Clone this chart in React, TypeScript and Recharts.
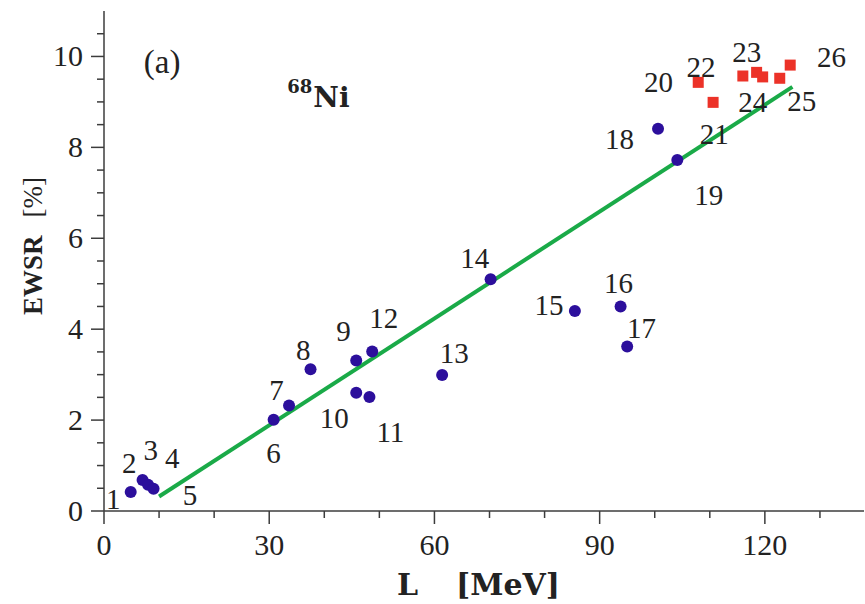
import React from 'react';
import { ScatterChart, Scatter, XAxis, YAxis, ReferenceLine, Customized } from 'recharts';

// ---- data ----
const blueIds = [1, 2, 3, 4, 6, 7, 8, 9, 10, 11, 12, 13, 14, 15, 16, 17, 18, 19];
const blueL = [4.85, 7.0, 8.0, 9.0, 30.8, 33.6, 37.5, 45.8, 45.8, 48.2, 48.7, 61.4, 70.2, 85.5, 93.8, 95.0, 100.6, 104.1];
const blueEWSR = [0.42, 0.68, 0.58, 0.49, 2.01, 2.32, 3.12, 3.31, 2.6, 2.51, 3.51, 2.99, 5.1, 4.4, 4.5, 3.62, 8.41, 7.72];

const redIds = [20, 21, 22, 23, 24, 25, 26];
const redL = [107.9, 110.6, 116.0, 118.5, 119.6, 122.7, 124.6];
const redEWSR = [9.43, 8.99, 9.57, 9.65, 9.55, 9.52, 9.81];

// linear fit endpoints
const fitL = [10, 125];
const fitEWSR = [0.32, 9.33];

// model-number labels (anchored in data coordinates)
const labelText = ['1', '2', '3', '4', '5', '6', '7', '8', '9', '10', '11', '12', '13', '14', '15', '16', '17', '18', '19', '20', '21', '22', '23', '24', '25', '26'];
const labelL = [1.7, 4.6, 8.5, 12.4, 15.6, 30.8, 31.3, 36.2, 43.5, 41.8, 52.0, 50.8, 63.6, 67.3, 80.8, 93.4, 97.6, 93.6, 109.8, 100.7, 110.8, 108.4, 116.7, 117.8, 126.7, 132.1];
const labelEWSR = [0.27, 1.05, 1.35, 1.16, 0.36, 1.28, 2.66, 3.54, 3.97, 2.04, 1.74, 4.24, 3.47, 5.57, 4.54, 5.02, 4.03, 8.19, 6.96, 9.43, 8.29, 9.76, 10.09, 8.99, 9.02, 9.98];

// panel notes
const panelNote = [{ L: 10.55, EWSR: 9.87, text: '(a)' }];
const nucleusNote = [{ L: 33.27, EWSR: 8.88, mass: '68', element: 'Ni' }];

const xTicks = [0, 10, 20, 30, 40, 50, 60, 70, 80, 90, 100, 110, 120, 130];
const xMajor = [0, 30, 60, 90, 120];
const yTicks = [0, 0.5, 1, 1.5, 2, 2.5, 3, 3.5, 4, 4.5, 5, 5.5, 6, 6.5, 7, 7.5, 8, 8.5, 9, 9.5, 10, 10.5];
const yMajor = [0, 2, 4, 6, 8, 10];

const blueData = blueIds.map((id, i) => ({ id, L: blueL[i], EWSR: blueEWSR[i] }));
const redData = redIds.map((id, i) => ({ id, L: redL[i], EWSR: redEWSR[i] }));
const labelData = labelText.map((t, i) => ({ text: t, L: labelL[i], EWSR: labelEWSR[i] }));
const fitSegment = fitL.map((L, i) => ({ x: L, y: fitEWSR[i] }));

// ---- styles ----
const FONT = '"Liberation Serif", "Times New Roman", serif';
const WIDE = '"DejaVu Serif", serif';
const AX = '#3c3c3c';
const TXT = '#222222';
const BLUE = '#2c0f9c';
const RED = '#ec3228';
const GREEN = '#1aaa48';
const MAJOR = 13;
const MINOR = 7;

const BottomTick = (p: any) => {
  const v = p.payload.value;
  const major = xMajor.includes(v);
  return (
    <g>
      <line x1={p.x} x2={p.x} y1={p.y} y2={p.y + (major ? MAJOR : MINOR)} stroke={AX} strokeWidth={1.5} />
      {major && (
        <text x={p.x} y={p.y + 44} textAnchor="middle" fontFamily={FONT} fontSize={30} fill={TXT}>{v}</text>
      )}
    </g>
  );
};

const TopTick = (p: any) => {
  const v = p.payload.value;
  const major = xMajor.includes(v);
  return <line x1={p.x} x2={p.x} y1={p.y} y2={p.y + (major ? MAJOR : MINOR) + 2} stroke={AX} strokeWidth={1.5} />;
};

const LeftTick = (p: any) => {
  const v = p.payload.value;
  const major = yMajor.includes(v);
  return (
    <g>
      <line x1={p.x - (major ? MAJOR : MINOR)} x2={p.x} y1={p.y} y2={p.y} stroke={AX} strokeWidth={1.5} />
      {major && (
        <text x={p.x - 21} y={p.y + 10} textAnchor="end" fontFamily={FONT} fontSize={30} fill={TXT}>{v}</text>
      )}
    </g>
  );
};

const RightTick = (p: any) => {
  const v = p.payload.value;
  const major = yMajor.includes(v);
  return <line x1={p.x - (major ? MAJOR : MINOR)} x2={p.x} y1={p.y} y2={p.y} stroke={AX} strokeWidth={1.5} />;
};

const Dot = (p: any) => <circle cx={p.cx} cy={p.cy} r={6} fill={BLUE} />;
const Square = (p: any) => <rect x={p.cx - 5.5} y={p.cy - 5.5} width={11} height={11} fill={RED} />;
const NumberLabel = (p: any) => (
  <text x={p.cx} y={p.cy} textAnchor="middle" dominantBaseline="central" fontFamily={FONT} fontSize={29} fill={TXT}>
    {p.payload.text}
  </text>
);
const PanelLabel = (p: any) => (
  <text x={p.cx} y={p.cy} textAnchor="middle" dominantBaseline="central" fontFamily={FONT} fontSize={33} fill={TXT}>
    {p.payload.text}
  </text>
);
const NucleusLabel = (p: any) => (
  <text x={p.cx} y={p.cy} textAnchor="start" fontFamily={WIDE} fontWeight="bold" fill={TXT}>
    <tspan fontSize={18} dy={-14}>{p.payload.mass}</tspan>
    <tspan fontSize={28} dy={14} dx={1}>{p.payload.element}</tspan>
  </text>
);

const AxisTitles = () => (
  <g fill={TXT}>
    <text x={397} y={595} fontSize={30} fontFamily={WIDE} fontWeight="bold">
      <tspan>L</tspan>
      <tspan dx={38}>[MeV]</tspan>
    </text>
    <text x={42} y={246} fontSize={27} fontFamily={FONT} textAnchor="middle" transform="rotate(-90 42 246)">
      <tspan fontWeight="bold">EWSR</tspan>
      <tspan dx={18}>[%]</tspan>
    </text>
  </g>
);

export default function App() {
  return (
    <div style={{ position: 'absolute', left: 0, top: 0, background: '#fff' }}>
      <ScatterChart width={865} height={604} margin={{ top: 11, right: 1, bottom: 33, left: 0 }}>
        <XAxis
          xAxisId={0}
          type="number"
          dataKey="L"
          domain={[0, 138]}
          ticks={xTicks}
          interval={0}
          allowDataOverflow
          height={60}
          tickSize={0}
          tickMargin={0}
          tickLine={false}
          tick={BottomTick}
          axisLine={{ stroke: AX, strokeWidth: 1.5 }}
        />
        <XAxis
          xAxisId="top"
          orientation="top"
          type="number"
          domain={[0, 138]}
          ticks={xTicks}
          interval={0}
          allowDataOverflow
          height={0}
          tickSize={0}
          tickMargin={0}
          tickLine={false}
          tick={TopTick}
          axisLine={{ stroke: AX, strokeWidth: 1.5 }}
        />
        <YAxis
          yAxisId={0}
          type="number"
          dataKey="EWSR"
          domain={[0, 11]}
          ticks={yTicks}
          interval={0}
          allowDataOverflow
          width={104}
          tickSize={0}
          tickMargin={0}
          tickLine={false}
          tick={LeftTick}
          axisLine={{ stroke: AX, strokeWidth: 1.5 }}
        />
        <YAxis
          yAxisId="right"
          orientation="right"
          type="number"
          domain={[0, 11]}
          ticks={yTicks}
          interval={0}
          allowDataOverflow
          width={0}
          tickSize={0}
          tickMargin={0}
          tickLine={false}
          tick={RightTick}
          axisLine={{ stroke: AX, strokeWidth: 1.5 }}
        />
        <ReferenceLine segment={fitSegment} stroke={GREEN} strokeWidth={4} ifOverflow="visible" />
        <Scatter data={blueData} dataKey="EWSR" shape={Dot} isAnimationActive={false} />
        <Scatter data={redData} dataKey="EWSR" shape={Square} isAnimationActive={false} />
        <Scatter data={labelData} dataKey="EWSR" shape={NumberLabel} isAnimationActive={false} />
        <Scatter data={panelNote} dataKey="EWSR" shape={PanelLabel} isAnimationActive={false} />
        <Scatter data={nucleusNote} dataKey="EWSR" shape={NucleusLabel} isAnimationActive={false} />
        <Customized component={AxisTitles} />
      </ScatterChart>
    </div>
  );
}
